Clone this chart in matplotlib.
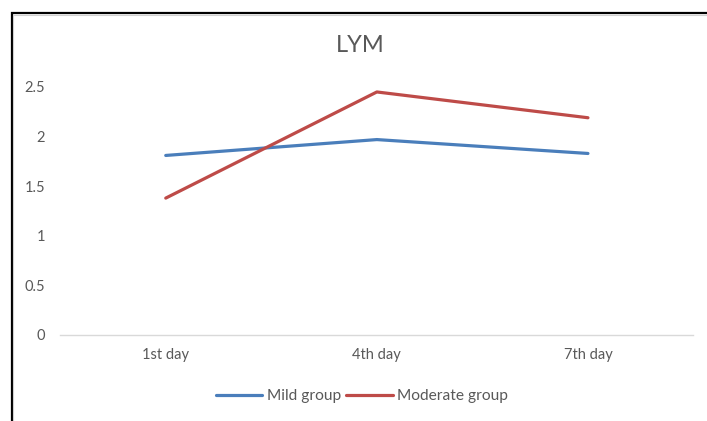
import matplotlib
matplotlib.use("Agg")
import matplotlib.pyplot as plt
from matplotlib.patches import Rectangle

# data
days = ["1st day", "4th day", "7th day"]
mild = [1.81, 1.97, 1.83]
moderate = [1.38, 2.45, 2.19]
yticks = [0, 0.5, 1, 1.5, 2, 2.5]
ytick_labels = ["0", "0.5", "1", "1.5", "2", "2.5"]

BLUE = "#4a7ebb"
RED = "#be4b48"
TEXT = "#595959"

plt.rcParams["font.family"] = ["Lato", "DejaVu Sans"]

W, H = 707, 421
fig = plt.figure(figsize=(W / 100, H / 100), dpi=100, facecolor="white")

# chart frame (cut off on right and bottom like the screenshot)
fig.patches.append(Rectangle((11.5 / W, -0.05), 1.2, 1 - 12.5 / H + 0.05,
                             transform=fig.transFigure, fill=False,
                             edgecolor="black", linewidth=1.6, zorder=0))
fig.patches.append(Rectangle((13 / W, -0.05), 1.2, 1 - 14.5 / H + 0.05,
                             transform=fig.transFigure, fill=False,
                             edgecolor="#d0d0d0", linewidth=0.8, zorder=0))

ax = fig.add_axes([60.2 / W, 1 - 335 / H, (693.5 - 60.2) / W, (335 - 87) / H])
x = range(len(days))
ax.plot(x, mild, color=BLUE, linewidth=2.3, label="Mild group",
        solid_capstyle="round")
ax.plot(x, moderate, color=RED, linewidth=2.3, label="Moderate group",
        solid_capstyle="round")

ax.set_xlim(-0.5, len(days) - 0.5)
ax.set_ylim(0, 2.5)
ax.set_xticks(list(x))
ax.set_xticklabels(days)
ax.set_yticks(yticks)
ax.set_yticklabels(ytick_labels)
ax.tick_params(axis="both", length=0, colors=TEXT, labelsize=10.5)
ax.tick_params(axis="y", pad=11)
ax.tick_params(axis="x", pad=9)
for s in ["top", "right", "left"]:
    ax.spines[s].set_visible(False)
ax.spines["bottom"].set_color("#d9d9d9")
ax.spines["bottom"].set_linewidth(1.0)
ax.patch.set_alpha(0)

fig.text(360 / W, 1 - 45 / H, "LYM", ha="center", va="center",
         fontsize=17, color=TEXT)

fig.legend(loc="center", bbox_to_anchor=(362 / W, 1 - 396 / H), ncol=2,
           frameon=False, fontsize=11.2, labelcolor=TEXT, handlelength=3.0,
           handletextpad=0.3, columnspacing=0.3)

fig.savefig("out.png", dpi=100, facecolor="white")
